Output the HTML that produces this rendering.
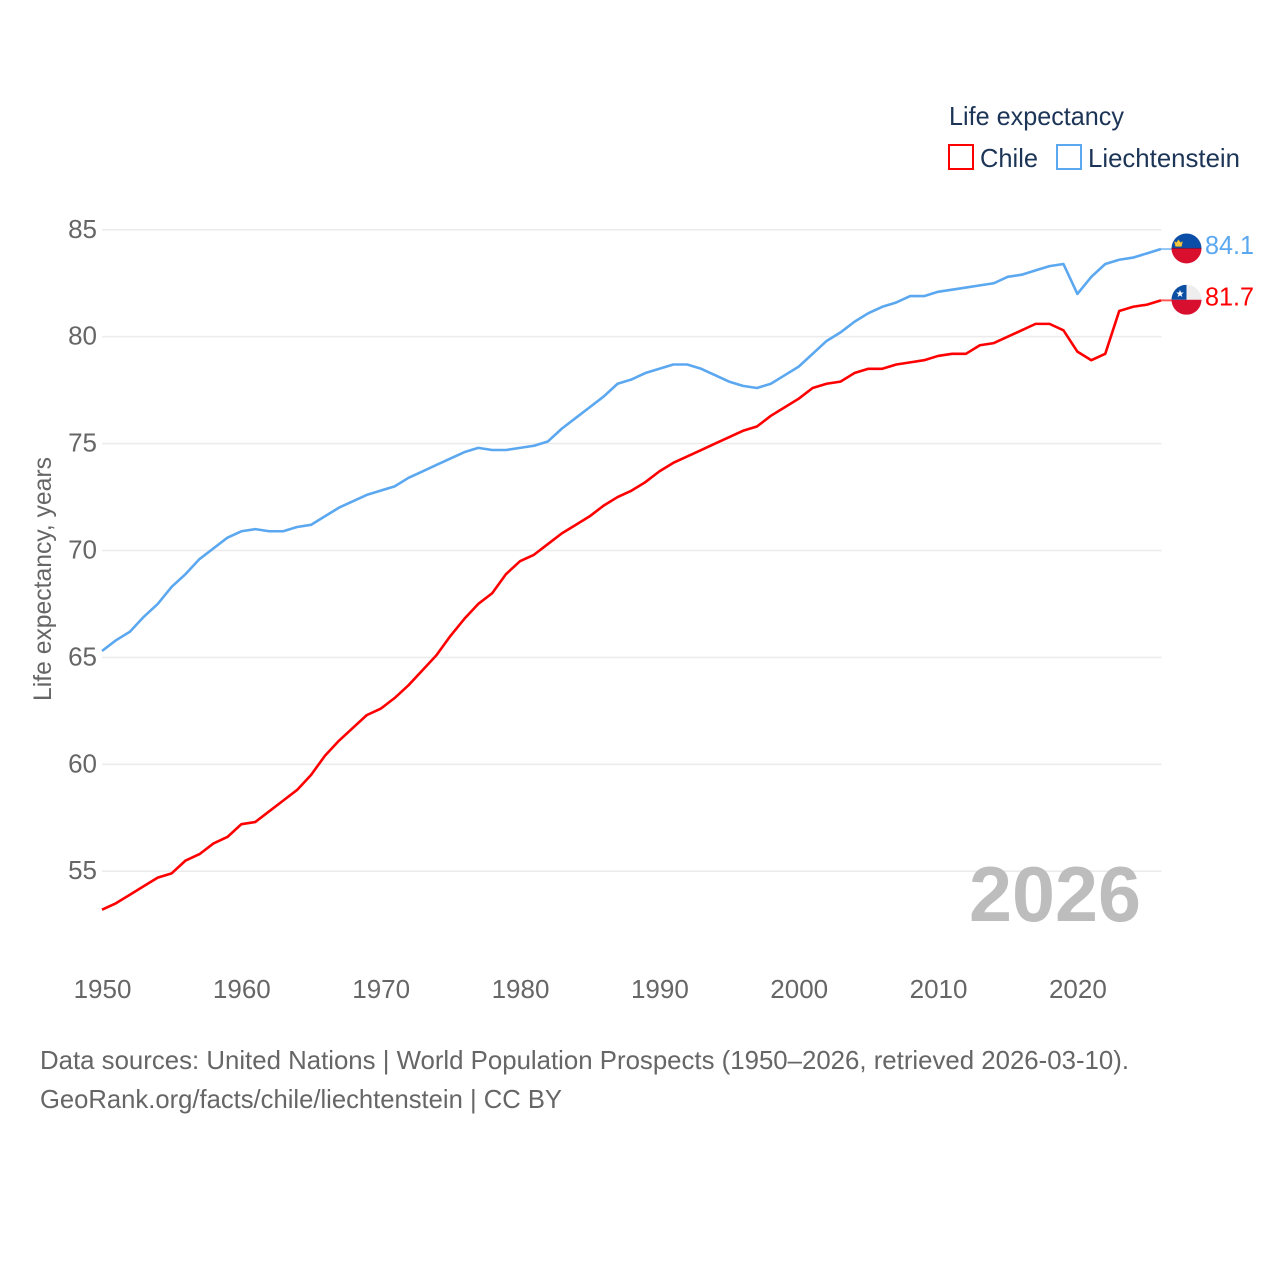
<!DOCTYPE html>
<html lang="en">
<head>
<meta charset="utf-8">
<title>Life expectancy: Chile and Liechtenstein</title>
<style>
html,body{margin:0;padding:0;background:#fff;width:1280px;height:1280px;overflow:hidden}
svg{display:block}
text{font-family:"Liberation Sans",sans-serif}
</style>
</head>
<body>
<svg id="chart" width="1280" height="1280" viewBox="0 0 1280 1280" xmlns="http://www.w3.org/2000/svg">
  <defs>
    <clipPath id="clip-li"><circle id="clip-li-circle" r="15"></circle></clipPath>
    <clipPath id="clip-cl"><circle id="clip-cl-circle" r="15"></circle></clipPath>
  </defs>
  <rect width="1280" height="1280" fill="#fff"></rect>

  <text x="949" y="125" font-size="26" fill="#1c3557" textLength="175" lengthAdjust="spacingAndGlyphs">Life expectancy</text>
  <g>
    <rect x="949" y="145" width="24" height="24" fill="#fff" stroke="#ff0000" stroke-width="2"></rect>
    <text x="980" y="167" font-size="26" fill="#1c3557" textLength="58" lengthAdjust="spacingAndGlyphs">Chile</text>
  </g>
  <g>
    <rect x="1057" y="145" width="24" height="24" fill="#fff" stroke="#5ba8f0" stroke-width="2"></rect>
    <text x="1088" y="167" font-size="26" fill="#1c3557" textLength="152" lengthAdjust="spacingAndGlyphs">Liechtenstein</text>
  </g>

  <g id="grid"></g>
  <g id="y-axis"></g>
  <g id="x-axis"></g>
  <text transform="translate(51,701) rotate(-90)" font-size="25" fill="#666" textLength="244" lengthAdjust="spacingAndGlyphs">Life expectancy, years</text>

  <text x="969" y="921" font-size="78" font-weight="700" fill="#bdbdbd" textLength="172" lengthAdjust="spacingAndGlyphs">2026</text>

  <g id="series"></g>

  <g id="flag-li" clip-path="url(#clip-li)"></g>
  <g id="flag-cl" clip-path="url(#clip-cl)"></g>

  <text x="40" y="1069" font-size="26" fill="#666" textLength="1089" lengthAdjust="spacingAndGlyphs">Data sources: United Nations | World Population Prospects (1950–2026, retrieved 2026-03-10).</text>
  <text x="40" y="1108" font-size="26" fill="#666" textLength="522" lengthAdjust="spacingAndGlyphs">GeoRank.org/facts/chile/liechtenstein | CC BY</text>
</svg>
<script>
const years = [1950,1951,1952,1953,1954,1955,1956,1957,1958,1959,1960,1961,1962,1963,1964,1965,1966,1967,1968,1969,1970,1971,1972,1973,1974,1975,1976,1977,1978,1979,1980,1981,1982,1983,1984,1985,1986,1987,1988,1989,1990,1991,1992,1993,1994,1995,1996,1997,1998,1999,2000,2001,2002,2003,2004,2005,2006,2007,2008,2009,2010,2011,2012,2013,2014,2015,2016,2017,2018,2019,2020,2021,2022,2023,2024,2025,2026];
const chileValues = [53.2,53.5,53.9,54.3,54.7,54.9,55.5,55.8,56.3,56.6,57.2,57.3,57.8,58.3,58.8,59.5,60.4,61.1,61.7,62.3,62.6,63.1,63.7,64.4,65.1,66.0,66.8,67.5,68.0,68.9,69.5,69.8,70.3,70.8,71.2,71.6,72.1,72.5,72.8,73.2,73.7,74.1,74.4,74.7,75.0,75.3,75.6,75.8,76.3,76.7,77.1,77.6,77.8,77.9,78.3,78.5,78.5,78.7,78.8,78.9,79.1,79.2,79.2,79.6,79.7,80.0,80.3,80.6,80.6,80.3,79.3,78.9,79.2,81.2,81.4,81.5,81.7];
const liechtensteinValues = [65.3,65.8,66.2,66.9,67.5,68.3,68.9,69.6,70.1,70.6,70.9,71.0,70.9,70.9,71.1,71.2,71.6,72.0,72.3,72.6,72.8,73.0,73.4,73.7,74.0,74.3,74.6,74.8,74.7,74.7,74.8,74.9,75.1,75.7,76.2,76.7,77.2,77.8,78.0,78.3,78.5,78.7,78.7,78.5,78.2,77.9,77.7,77.6,77.8,78.2,78.6,79.2,79.8,80.2,80.7,81.1,81.4,81.6,81.9,81.9,82.1,82.2,82.3,82.4,82.5,82.8,82.9,83.1,83.3,83.4,82.0,82.8,83.4,83.6,83.7,83.9,84.1];
const yTicks = [55,60,65,70,75,80,85];
const xTicks = [1950,1960,1970,1980,1990,2000,2010,2020];

const NS = 'http://www.w3.org/2000/svg';
const PLOT_LEFT = 102, PLOT_RIGHT = 1161;
const xScale = v => PLOT_LEFT + (v - 1950) * (PLOT_RIGHT - PLOT_LEFT) / (2026 - 1950);
const yScale = v => 229.8 + (85 - v) * 21.38;
function make(tag, attrs, parent) {
  const el = document.createElementNS(NS, tag);
  for (const k in attrs) el.setAttribute(k, attrs[k]);
  parent.appendChild(el);
  return el;
}

const grid = document.getElementById('grid');
const yAxis = document.getElementById('y-axis');
yTicks.forEach(t => {
  const line = make('line', {x1: PLOT_LEFT, x2: PLOT_RIGHT + 0.5, y1: yScale(t), y2: yScale(t), stroke: '#ececec', 'stroke-width': 1.6}, grid);
  
  
  const label = make('text', {x: 97, y: yScale(t) + 8, 'text-anchor': 'end', 'font-size': 26, fill: '#666'}, yAxis);
  
  
  label.textContent = t;
});

const xAxis = document.getElementById('x-axis');
xTicks.forEach(t => {
  const label = make('text', {x: xScale(t) + 0.5, y: 998, 'text-anchor': 'middle', 'font-size': 26, fill: '#666'}, xAxis);
  
  
  label.textContent = t;
});

const seriesGroup = document.getElementById('series');
function drawSeries(values, color, name) {
  const pts = values.map((v, i) => xScale(years[i]).toFixed(2) + ',' + yScale(v).toFixed(2)).join(' ');
  const line = make('polyline', {points: pts, fill: 'none', stroke: color, 'stroke-width': 2.6, 'stroke-linejoin': 'round', 'stroke-linecap': 'butt'}, seriesGroup);
  
  
  const last = values[values.length - 1];
  const y = yScale(last);
  const connector = make('line', {x1: PLOT_RIGHT, x2: 1172, y1: y, y2: y, stroke: color, 'stroke-width': 2, opacity: 0.65}, seriesGroup);
  
  
  const label = make('text', {x: 1205, y: y + 5, 'font-size': 26, fill: color, textLength: 49, lengthAdjust: 'spacingAndGlyphs'}, seriesGroup);
  
  
  label.textContent = last.toFixed(1);
  return y - 0.6;
}
const chileY = drawSeries(chileValues, '#ff0000', 'chile');
const liechtensteinY = drawSeries(liechtensteinValues, '#5ba8f0', 'liechtenstein');

const FLAG_X = 1186.5;
const li = document.getElementById('flag-li');
const liC = document.getElementById('clip-li-circle');
liC.setAttribute('cx', FLAG_X);
liC.setAttribute('cy', liechtensteinY);
make('rect', {x: FLAG_X - 15, y: liechtensteinY - 15, width: 30, height: 15, fill: '#0a4ea8'}, li);
make('rect', {x: FLAG_X - 15, y: liechtensteinY, width: 30, height: 15, fill: '#d90f2d'}, li);
make('rect', {x: FLAG_X - 15, y: liechtensteinY - 0.5, width: 30, height: 1, fill: '#7a1840'}, li);
make('path', {d: 'M' + (FLAG_X - 11) + ' ' + (liechtensteinY - 2) + 'h6l1-5-2 1.2-2-3-2 3-2-1.2z', fill: '#f5c842', stroke: '#d9a520', 'stroke-width': 0.4}, li);

const cl = document.getElementById('flag-cl');
const clC = document.getElementById('clip-cl-circle');
clC.setAttribute('cx', FLAG_X);
clC.setAttribute('cy', chileY);
make('rect', {x: FLAG_X - 15, y: chileY - 15, width: 30, height: 15, fill: '#eeeeee'}, cl);
make('rect', {x: FLAG_X - 15, y: chileY - 15, width: 15, height: 15, fill: '#0b4ea2'}, cl);
make('rect', {x: FLAG_X - 15, y: chileY, width: 30, height: 15, fill: '#d80f2e'}, cl);
const cx = FLAG_X - 6.5, cy = chileY - 6, starPts = [];
for (let i = 0; i < 10; i++) {
  const r = i % 2 ? 1.6 : 4;
  const a = -Math.PI / 2 + i * Math.PI / 5;
  starPts.push((cx + r * Math.cos(a)).toFixed(2) + ',' + (cy + r * Math.sin(a)).toFixed(2));
}
make('polygon', {points: starPts.join(' '), fill: '#fff'}, cl);
</script>
</body>
</html>
